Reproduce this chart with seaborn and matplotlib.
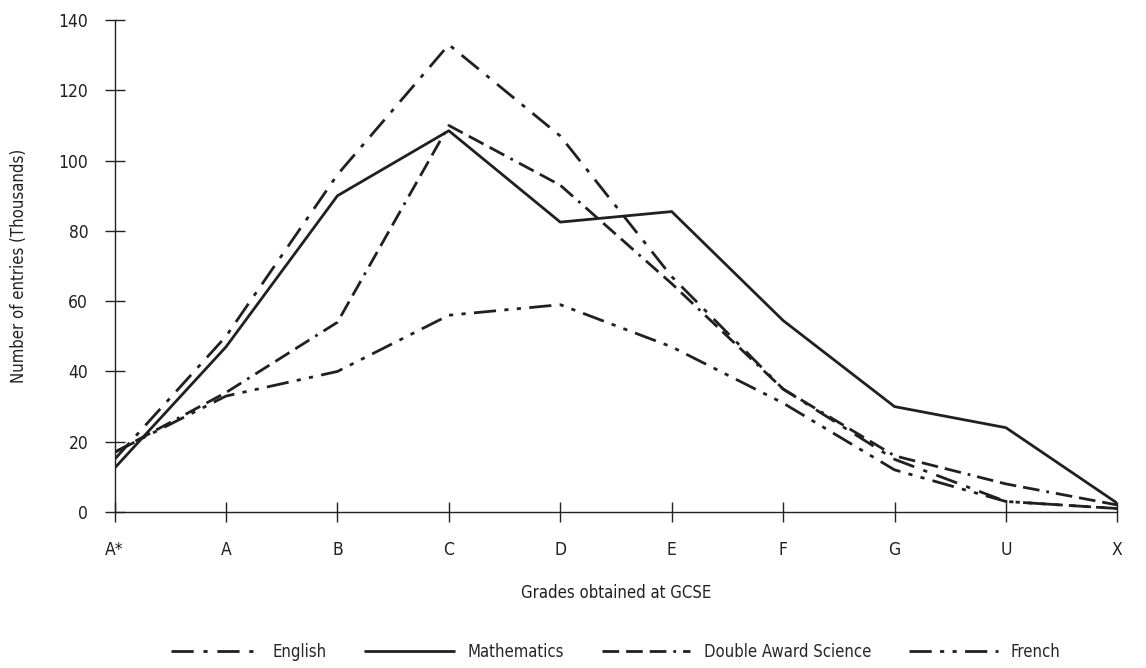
import matplotlib
matplotlib.use("Agg")
import matplotlib.pyplot as plt
import seaborn as sns
import pandas as pd

# Data (thousands of entries per grade)
grades = ['A*', 'A', 'B', 'C', 'D', 'E', 'F', 'G', 'U', 'X']
english = [15, 50, 96, 133, 107, 67, 35, 15, 3, 1]
mathematics = [12.5, 47, 90, 108.5, 82.5, 85.5, 54.5, 30, 24, 2.5]
science = [17, 34, 54, 110, 93, 65, 35, 16, 8, 2]
french = [17, 33, 40, 56, 59, 47, 31, 12, 3, 1]

subjects = ['English', 'Mathematics', 'Double Award Science', 'French']
df = pd.DataFrame({
    'grade': grades * 4,
    'entries': english + mathematics + science + french,
    'subject': [s for s in subjects for _ in grades],
})

sns.set_style('white')
plt.rcParams['font.family'] = ['DejaVu Sans Condensed', 'Liberation Sans Narrow', 'DejaVu Sans']
plt.rcParams['font.stretch'] = 'condensed'

dashes = {
    'English': (8, 3.5, 1.5, 3.5),
    'Mathematics': '',
    'Double Award Science': (6, 2.5, 6, 2.5, 6, 2.5, 1, 2.5),
    'French': (8, 3, 1.5, 3, 1.5, 3),
}

ink = '#231f20'
fig = plt.figure(figsize=(11.46, 6.68), dpi=100)
ax = fig.add_axes([0.100, 0.2335, 0.875, 0.7365])
sns.lineplot(data=df, x='grade', y='entries', hue='subject', style='subject',
             palette=[ink] * 4, dashes=dashes, linewidth=2, ax=ax,
             sort=False)

ax.set_xlim(0, len(grades) - 1)
ax.set_ylim(0, 140)
ax.set_yticks(range(0, 141, 20))
ax.set_xlabel('Grades obtained at GCSE', fontsize=12, labelpad=18, color=ink)
ax.set_ylabel('Number of entries (Thousands)', fontsize=12, labelpad=22, color=ink)
ax.tick_params(axis='both', direction='inout', length=14, width=1,
               color=ink, labelsize=12.5, labelcolor=ink,
               bottom=True, left=True)
ax.tick_params(axis='x', pad=14)
ax.tick_params(axis='y', pad=12)
for side in ['top', 'right']:
    ax.spines[side].set_visible(False)
for side in ['left', 'bottom']:
    ax.spines[side].set_color(ink)
    ax.spines[side].set_linewidth(1)

ax.legend(loc='upper center', bbox_to_anchor=(0.5, -0.235), ncol=4,
          frameon=False, fontsize=12, handlelength=5.3, columnspacing=2.3,
          handletextpad=0.8)

fig.savefig('out.png', dpi=100)
